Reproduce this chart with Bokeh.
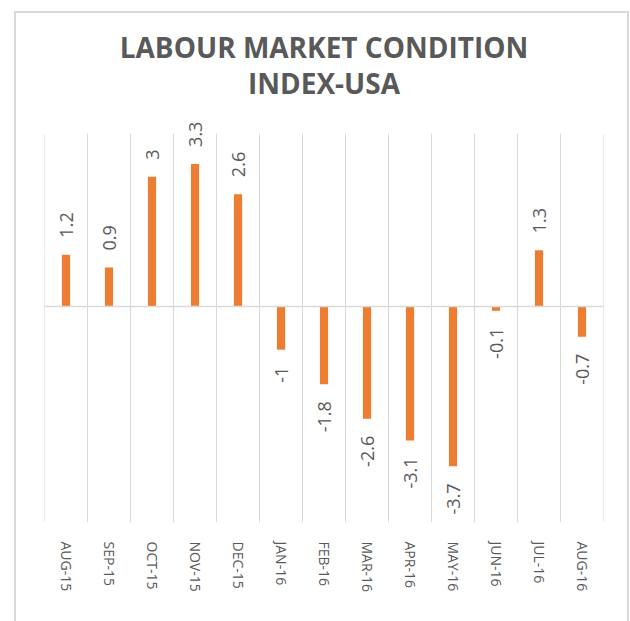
import math
from bokeh.plotting import figure
from bokeh.models import (ColumnDataSource, FixedTicker, Span, Range1d, Title)
from bokeh.core.properties import value
from bokeh.embed import file_html
from bokeh.resources import INLINE

months = ["AUG-15", "SEP-15", "OCT-15", "NOV-15", "DEC-15", "JAN-16", "FEB-16",
          "MAR-16", "APR-16", "MAY-16", "JUN-16", "JUL-16", "AUG-16"]
lmci = [1.2, 0.9, 3, 3.3, 2.6, -1, -1.8, -2.6, -3.1, -3.7, -0.1, 1.3, -0.7]
lmci_labels = ["1.2", "0.9", "3", "3.3", "2.6", "-1", "-1.8", "-2.6", "-3.1", "-3.7", "-0.1", "1.3", "-0.7"]
y_min, y_max = -5, 4

GRAY = "#595959"
GRID = "#d9d9d9"
ORANGE = "#ED7D31"
FONT = "Open Sans"

n = len(months)
xs = [i + 0.5 for i in range(n)]

# frame: 420px tall, grid region (y_min..y_max) occupies the lower 387px
top_extra = (420 - 387) / 387 * (y_max - y_min)

p = figure(width=615, height=610, output_backend="svg", toolbar_location=None,
           x_range=Range1d(0, n), y_range=Range1d(y_min, y_max + top_extra),
           min_border_left=28, min_border_right=28, min_border_top=87, min_border_bottom=101,
           margin=(11, 0, 0, 14),
           styles={"border-top": "2px solid #d9d9d9", "border-left": "2px solid #d9d9d9",
                   "border-right": "2px solid #d9d9d9"})
p.outline_line_color = None
p.background_fill_color = "white"
p.border_fill_color = "white"

p.add_layout(Title(text="INDEX-USA", align="center", text_font=FONT,
                   text_font_size="28px", text_font_style="bold", text_color=GRAY,
                   standoff=-2), "above")
p.add_layout(Title(text="LABOUR MARKET CONDITION", align="center", text_font=FONT,
                   text_font_size="28px", text_font_style="bold", text_color=GRAY,
                   standoff=-7), "above")

# vertical category-boundary gridlines
bounds = list(range(n + 1))
p.segment(x0=bounds, x1=bounds, y0=[y_min] * len(bounds), y1=[y_max] * len(bounds),
          line_color=GRID, line_width=1)
p.add_layout(Span(location=0, dimension="width", line_color=GRID, line_width=1.5))

src = ColumnDataSource(dict(x=xs, top=lmci, lab=lmci_labels))
p.vbar(x="x", top="top", bottom=0, width=0.19, source=src, fill_color=ORANGE, line_color=None)

pos = ColumnDataSource(dict(x=[x for x, v in zip(xs, lmci) if v >= 0],
                            y=[v for v in lmci if v >= 0],
                            lab=[l for l, v in zip(lmci_labels, lmci) if v >= 0]))
neg = ColumnDataSource(dict(x=[x for x, v in zip(xs, lmci) if v < 0],
                            y=[v for v in lmci if v < 0],
                            lab=[l for l, v in zip(lmci_labels, lmci) if v < 0]))
p.text(x="x", y="y", text="lab", source=pos, angle=math.pi / 2, text_align="left",
       text_baseline="middle", y_offset=-17, text_font=value(FONT), text_font_size="18px",
       text_color=GRAY)
p.text(x="x", y="y", text="lab", source=neg, angle=math.pi / 2, text_align="right",
       text_baseline="middle", y_offset=17, text_font=value(FONT), text_font_size="18px",
       text_color=GRAY)

p.xgrid.grid_line_color = None
p.ygrid.grid_line_color = None

p.yaxis.visible = False
ax = p.xaxis[0]
ax.ticker = FixedTicker(ticks=xs)
ax.major_label_overrides = {x: m for x, m in zip(xs, months)}
ax.major_label_orientation = -math.pi / 2
ax.axis_line_color = None
ax.major_tick_line_color = None
ax.minor_tick_line_color = None
ax.major_label_standoff = 13
ax.major_label_text_font = FONT
ax.major_label_text_font_size = "14px"
ax.major_label_text_color = GRAY

open("out.html", "w").write(file_html(p, INLINE))
